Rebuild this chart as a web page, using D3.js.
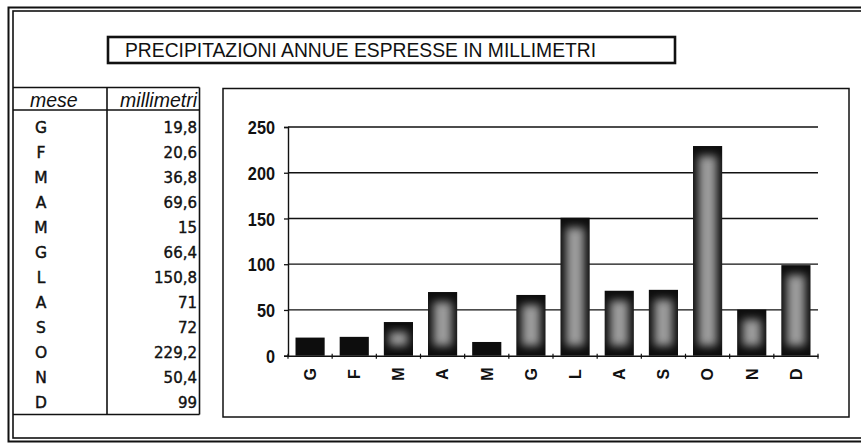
<!DOCTYPE html>
<html>
<head>
<meta charset="utf-8">
<script src="https://cdn.jsdelivr.net/npm/d3@7"></script>
<style>
  html, body { margin: 0; padding: 0; background: #fff; }
  svg { display: block; }
</style>
</head>
<body>
<svg id="chart" width="861" height="443"></svg>
<script>
// ---- data ----
const months = ["G","F","M","A","M","G","L","A","S","O","N","D"];
const values = [19.8, 20.6, 36.8, 69.6, 15, 66.4, 150.8, 71, 72, 229.2, 50.4, 99];
const yTicks = [0, 50, 100, 150, 200, 250];
const title = "PRECIPITAZIONI ANNUE ESPRESSE IN MILLIMETRI";
const headers = ["mese", "millimetri"];

// ---- layout ----
const svg = d3.select("#chart");
const ink = "#111";

// outer double frame (right side runs past the picture edge)
svg.append("rect").attr("x", 8.5).attr("y", 7.5).attr("width", 870).attr("height", 434)
  .attr("fill", "none").attr("stroke", ink).attr("stroke-width", 2);
svg.append("rect").attr("x", 13).attr("y", 11).attr("width", 870).attr("height", 427)
  .attr("fill", "none").attr("stroke", ink).attr("stroke-width", 1.6);

// title box
svg.append("rect").attr("x", 108).attr("y", 37).attr("width", 567).attr("height", 26)
  .attr("fill", "#fff").attr("stroke", ink).attr("stroke-width", 2.6);
svg.append("text").attr("x", 125).attr("y", 56.5)
  .attr("font-family", "Liberation Sans, Arial, sans-serif").attr("font-size", 19.3)
  .attr("fill", ink).text(title);

// ---- table ----
const tbl = svg.append("g");
const tx0 = 13, tx1 = 107, tx2 = 199.5, ty0 = 87.5, ty1 = 110, ty2 = 414.5;
tbl.append("line").attr("x1", tx0).attr("x2", tx2).attr("y1", ty0).attr("y2", ty0);
tbl.append("line").attr("x1", tx0).attr("x2", tx2).attr("y1", ty1).attr("y2", ty1);
tbl.append("line").attr("x1", tx0).attr("x2", tx2).attr("y1", ty2).attr("y2", ty2);
tbl.append("line").attr("x1", tx1).attr("x2", tx1).attr("y1", ty0).attr("y2", ty2);
tbl.append("line").attr("x1", tx2).attr("x2", tx2).attr("y1", ty0).attr("y2", ty2);
tbl.selectAll("line").attr("stroke", ink).attr("stroke-width", 1.6);

const hf = "Liberation Sans, Arial, sans-serif";
tbl.append("text").attr("x", 30).attr("y", 106.5).attr("font-family", hf).attr("font-size", 19.5)
  .attr("font-style", "italic").attr("fill", ink).text(headers[0]);
tbl.append("text").attr("x", 197).attr("y", 106.5).attr("font-family", hf).attr("font-size", 19.5)
  .attr("font-style", "italic").attr("text-anchor", "end").attr("fill", ink).text(headers[1]);

const tf = "DejaVu Sans, Verdana, sans-serif";
const rowY = d3.scaleLinear().domain([0, 11]).range([133.3, 408.3]);
const fmt = v => d3.format("")(v).replace(".", ",");
tbl.selectAll("text.m").data(months).join("text").attr("class", "m")
  .attr("x", 41).attr("y", (d, i) => rowY(i)).attr("text-anchor", "middle")
  .attr("font-family", tf).attr("font-size", 15.5).attr("fill", ink)
  .attr("stroke", ink).attr("stroke-width", 0.45).text(d => d);
tbl.selectAll("text.v").data(values).join("text").attr("class", "v")
  .attr("x", 197).attr("y", (d, i) => rowY(i)).attr("text-anchor", "end")
  .attr("font-family", tf).attr("font-size", 15).attr("fill", ink)
  .attr("stroke", ink).attr("stroke-width", 0.4).text(d => fmt(d));

// ---- chart box ----
svg.append("rect").attr("x", 223).attr("y", 88.5).attr("width", 626).attr("height", 328.5)
  .attr("fill", "#fff").attr("stroke", ink).attr("stroke-width", 1.5);

const x = d3.scaleBand().domain(d3.range(months.length)).range([288, 818])
  .paddingInner(0.34).paddingOuter(0.17);
const y = d3.scaleLinear().domain([0, 250]).range([355.7, 127]);

const defs = svg.append("defs");
defs.append("filter").attr("id", "soft").attr("x", "-50%").attr("y", "-50%")
  .attr("width", "200%").attr("height", "200%")
  .append("feGaussianBlur").attr("stdDeviation", 4.2);

// gridlines
svg.append("g").selectAll("line").data(yTicks.filter(t => t > 0)).join("line")
  .attr("x1", 288).attr("x2", 818).attr("y1", d => y(d)).attr("y2", d => y(d))
  .attr("stroke", ink).attr("stroke-width", 1.3);

// bars
const bars = svg.append("g");
values.forEach((v, i) => {
  const bx = x(i), bw = x.bandwidth(), by = y(v), bh = y(0) - y(v);
  const id = "clip" + i;
  defs.append("clipPath").attr("id", id).append("rect")
    .attr("x", bx).attr("y", by).attr("width", bw).attr("height", bh);
  bars.append("rect").attr("x", bx).attr("y", by).attr("width", bw).attr("height", bh)
    .attr("fill", "#0d0d0d");
  const ih = bh - 20;
  if (ih > 0) {
    bars.append("g").attr("clip-path", `url(#${id})`)
      .append("rect").attr("x", bx + 5.5).attr("y", by + 10).attr("width", bw - 11).attr("height", ih)
      .attr("fill", "#9c9c9c").attr("filter", "url(#soft)");
  }
});

// y axis
const yAxis = svg.append("g").attr("transform", "translate(288,0)")
  .call(d3.axisLeft(y).tickValues(yTicks).tickSize(4).tickPadding(0));
yAxis.select(".domain").attr("stroke", ink).attr("stroke-width", 1.4);
yAxis.selectAll(".tick line").attr("stroke", ink).attr("stroke-width", 1.3);
const sx = 0.88;
yAxis.selectAll(".tick text").attr("fill", ink)
  .attr("font-family", "Liberation Sans, Arial, sans-serif")
  .attr("font-weight", "bold").attr("font-size", 18.5).attr("dy", "0.36em")
  .attr("x", -13 / sx).attr("transform", `scale(${sx},1)`);

// x axis
const xAxis = svg.append("g").attr("transform", `translate(0,${y(0)})`)
  .call(d3.axisBottom(x).tickSize(0).tickFormat(i => months[i]));
xAxis.select(".domain").attr("stroke", ink).attr("stroke-width", 1.4);
xAxis.selectAll(".tick text")
  .attr("transform", "translate(0,18.5) rotate(-90)")
  .attr("y", 0).attr("x", 0).attr("dy", "0.36em").attr("text-anchor", "middle")
  .attr("fill", ink).attr("font-family", "Liberation Sans, Arial, sans-serif")
  .attr("font-weight", "bold").attr("font-size", 16);
// small cross ticks at category boundaries
const bounds = d3.range(months.length + 1).map(k => 288 + k * x.step());
xAxis.append("g").selectAll("line").data(bounds).join("line")
  .attr("x1", d => d).attr("x2", d => d).attr("y1", -2).attr("y2", 3)
  .attr("stroke", ink).attr("stroke-width", 1.2);
</script>
</body>
</html>
